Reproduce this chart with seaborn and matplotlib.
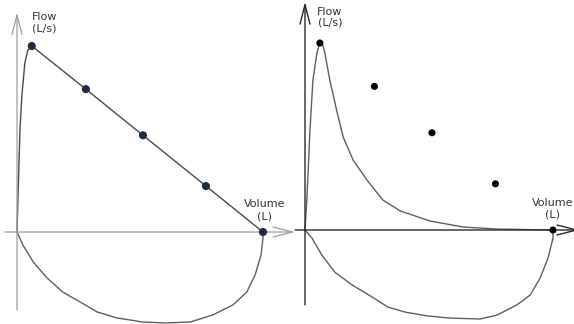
import matplotlib
matplotlib.use("Agg")
import matplotlib.pyplot as plt
import seaborn as sns

# predicted (normal) points, volume in L and flow in L/s
pred_vol = [0.30, 1.40, 2.56, 3.84, 5.00]
pred_flow = [10.0, 7.68, 5.20, 2.47, 0.0]

# left panel: normal loop (expiration rises to peak, then straight down)
norm_exp_vol = [0.0, 0.02, 0.06, 0.10, 0.16, 0.22, 0.30, 1.40, 2.56, 3.84, 5.00]
norm_exp_flow = [0.0, 1.88, 5.48, 7.37, 9.09, 9.78, 10.0, 7.68, 5.20, 2.47, 0.0]
norm_insp_vol = [0.0, 0.12, 0.33, 0.61, 0.93, 1.28, 1.63, 2.03, 2.56, 3.01, 3.52,
                 3.98, 4.39, 4.67, 4.84, 4.96, 5.00, 5.00]
norm_insp_flow = [0.0, -0.70, -1.61, -2.47, -3.23, -3.76, -4.30, -4.62, -4.84, -4.89,
                  -4.84, -4.46, -3.92, -3.23, -2.31, -1.24, -0.32, 0.0]

# right panel: obstructive loop (scooped expiration)
obs_exp_vol = [0.0, 0.04, 0.10, 0.16, 0.24, 0.28, 0.32, 0.36, 0.40, 0.50, 0.65, 0.77,
               0.97, 1.25, 1.57, 1.92, 2.52, 3.19, 3.87, 5.00]
obs_exp_flow = [0.0, 1.76, 5.35, 8.02, 9.47, 9.84, 10.0, 9.89, 9.47, 8.02, 6.26, 4.97,
                3.74, 2.67, 1.60, 1.02, 0.48, 0.16, 0.05, 0.0]
obs_insp_vol = [0.0, 0.14, 0.34, 0.60, 0.95, 1.35, 1.67, 2.02, 2.48, 2.92, 3.53, 3.87,
                4.27, 4.54, 4.74, 4.90, 5.00, 5.00]
obs_insp_flow = [0.0, -0.43, -1.34, -2.25, -2.94, -3.58, -4.12, -4.39, -4.60, -4.71,
                 -4.76, -4.55, -4.01, -3.48, -2.57, -1.50, -0.43, 0.0]

W, H = 574, 324
sns.set_style("white")
plt.rcParams["font.family"] = ["DejaVu Sans"]
fig = plt.figure(figsize=(W / 100, H / 100), dpi=100)


def make_ax(x0, x1, ox, oy, pxv, pxf):
    # axes covering pixel columns x0..x1, origin at pixel (ox, oy)
    ax = fig.add_axes([x0 / W, 0, (x1 - x0) / W, 1])
    ax.set_xlim((x0 - ox) / pxv, (x1 - ox) / pxv)
    ax.set_ylim((oy - H) / pxf, oy / pxf)
    ax.axis("off")
    ax.patch.set_alpha(0)
    return ax


def arrow(ax, tail, tip, color, lw=0.9):
    ax.annotate("", xy=tip, xytext=tail, annotation_clip=False,
                arrowprops=dict(arrowstyle="->,head_length=1.4,head_width=0.36",
                                color=color, lw=lw, shrinkA=0, shrinkB=0))


curve = dict(sort=False, color="#5e5e5e", lw=1.0, estimator=None)

# ---- left panel
axl = make_ax(0, 300, 17, 232, 49.2, 18.6)
arrow(axl, (0, -4.2), (0, 11.8), "#9e9e9e")
arrow(axl, (-0.25, 0), (5.65, 0), "#9e9e9e")
sns.lineplot(x=norm_exp_vol, y=norm_exp_flow, ax=axl, **{**curve, "color": "#4a4a4a"})
sns.lineplot(x=norm_insp_vol, y=norm_insp_flow, ax=axl, **curve)
sns.scatterplot(x=pred_vol, y=pred_flow, ax=axl, color="#1c2b40", s=34, edgecolor="none", zorder=5)
axl.text(0.30, 11.85, "Flow\n(L/s)", ha="left", va="top", fontsize=8, color="#333333",
         linespacing=1.25)
axl.text(5.03, 1.75, "Volume\n(L)", ha="center", va="top", fontsize=8, color="#333333",
         linespacing=1.2, multialignment="center")

# ---- right panel
axr = make_ax(290, 574, 305, 230, 49.6, 18.7)
arrow(axr, (0, -4.0), (0, 12.2), "#2a2a2a", lw=1.0)
arrow(axr, (-0.2, 0), (5.53, 0), "#2a2a2a", lw=1.0)
sns.lineplot(x=obs_exp_vol, y=obs_exp_flow, ax=axr, **curve)
sns.lineplot(x=obs_insp_vol, y=obs_insp_flow, ax=axr, **curve)
sns.scatterplot(x=pred_vol, y=pred_flow, ax=axr, color="black", s=26, edgecolor="none", zorder=5)
axr.text(0.50, 11.9, "Flow\n(L/s)", ha="center", va="top", fontsize=8, color="#333333",
         linespacing=1.05)
axr.text(5.0, 1.7, "Volume\n(L)", ha="center", va="top", fontsize=8, color="#333333",
         linespacing=1.2, multialignment="center")

fig.savefig("out.png", dpi=100)
